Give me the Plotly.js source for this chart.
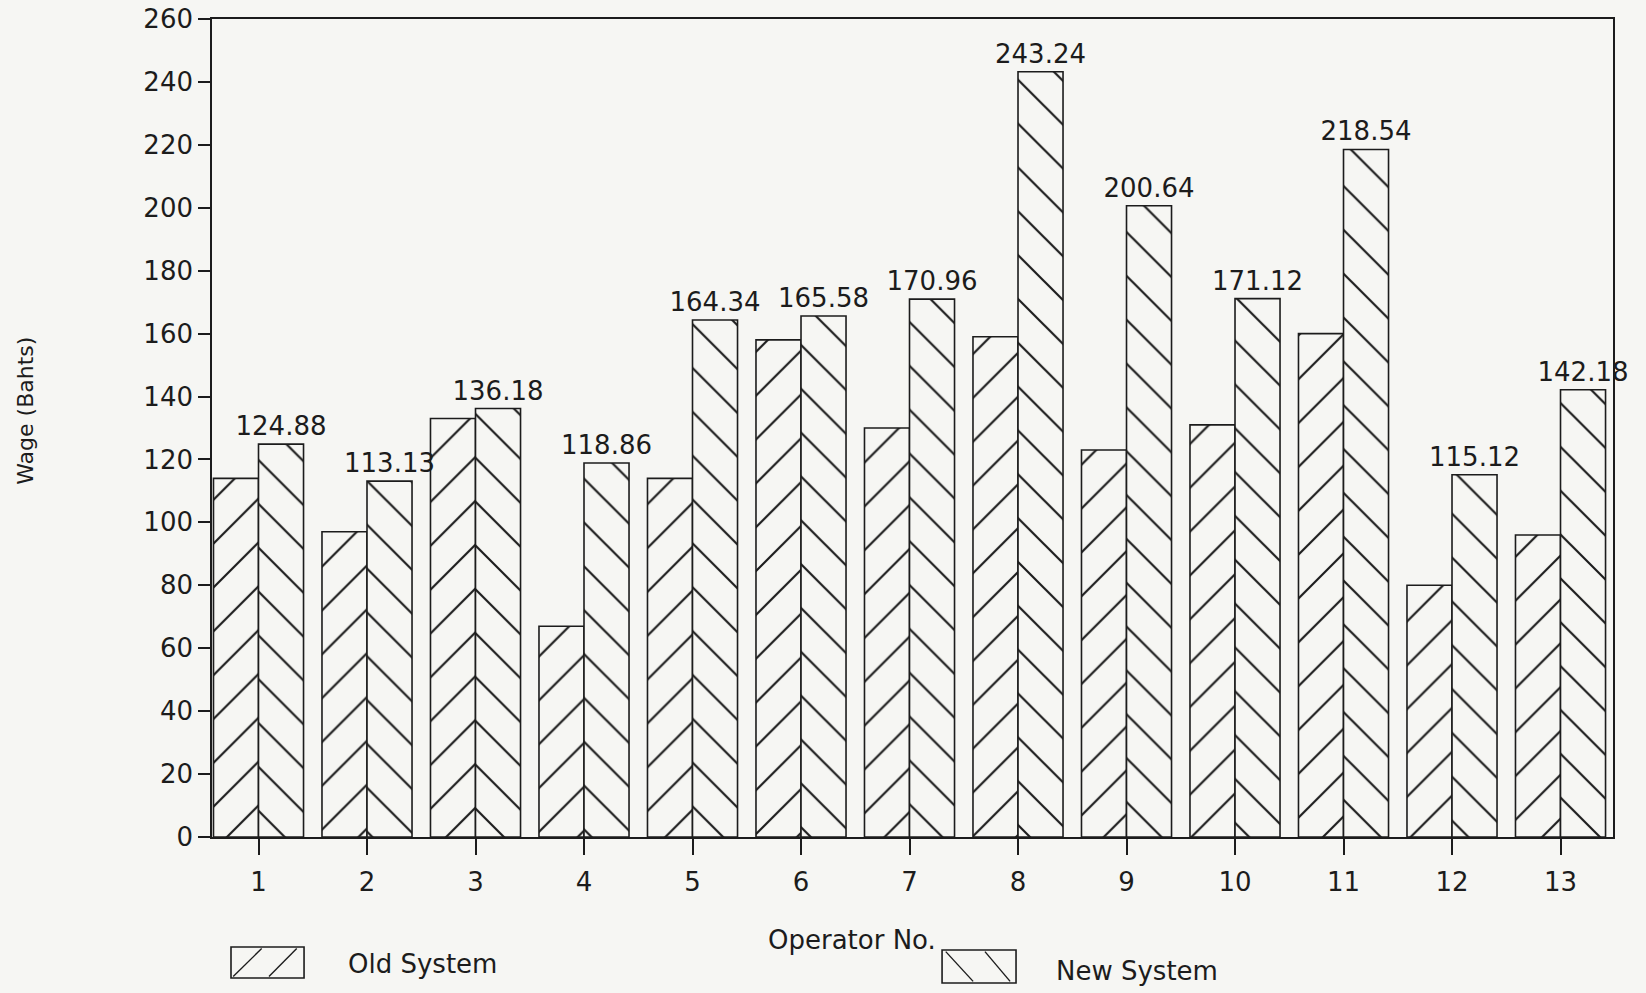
<!DOCTYPE html>
<html>
<head>
<meta charset="utf-8">
<script src="https://cdn.plot.ly/plotly-3.0.1.min.js"></script>
<style>html,body{margin:0;padding:0;background:#f6f6f3;}#chart{width:1646px;height:993px;}</style>
</head>
<body>
<div id="chart"></div>
<script>
// ---- data ----
const operators = [1, 2, 3, 4, 5, 6, 7, 8, 9, 10, 11, 12, 13];
const operatorLabels = ["1", "2", "3", "4", "5", "6", "7", "8", "9", "10", "11", "12", "13"];
const oldSystem = [114, 97, 133, 67, 114, 158, 130, 159, 123, 131, 160, 80, 96];
const newSystem = [124.88, 113.13, 136.18, 118.86, 164.34, 165.58, 170.96, 243.24, 200.64, 171.12, 218.54, 115.12, 142.18];
const yTicks = [0, 20, 40, 60, 80, 100, 120, 140, 160, 180, 200, 220, 240, 260];

const INK = '#1c1c1c';
const PAPER = '#f6f6f3';
const FONT = 'DejaVu Sans, sans-serif';

const traces = [
  {
    type: 'bar', name: 'Old System', x: operators, y: oldSystem,
    marker: {color: PAPER, line: {color: INK, width: 1.6},
      pattern: {shape: '/', size: 31, solidity: 0.07, fgcolor: INK, bgcolor: PAPER}},
    hoverinfo: 'x+y'
  },
  {
    type: 'bar', name: 'New System', x: operators, y: newSystem,
    text: newSystem.map(v => v.toFixed(2)), textposition: 'outside', cliponaxis: false,
    constraintext: 'none',
    textfont: {family: FONT, size: 26, color: INK},
    marker: {color: PAPER, line: {color: INK, width: 1.6},
      pattern: {shape: '\\', size: 31, solidity: 0.07, fgcolor: INK, bgcolor: PAPER}},
    hoverinfo: 'x+y'
  }
];

// legend drawn as boxes with hatching (paper coords)
function legendBox(x0, x1, y0, y1, dir) {
  const s = [{type: 'rect', xref: 'paper', yref: 'paper', x0: x0, x1: x1, y0: y0, y1: y1,
    line: {color: INK, width: 1.6}, fillcolor: 'rgba(0,0,0,0)'}];
  const w = x1 - x0, h = y1 - y0;
  const segs = dir === '/' ? [[0.03, 0.05, 0.42, 0.95], [0.52, 0.05, 0.9, 0.95]]
                           : [[0.05, 0.95, 0.42, 0.05], [0.58, 0.95, 0.92, 0.05]];
  segs.forEach(g => s.push({type: 'line', xref: 'paper', yref: 'paper',
    x0: x0 + g[0] * w, y0: y0 + g[1] * h, x1: x0 + g[2] * w, y1: y0 + g[3] * h,
    line: {color: INK, width: 1.4}}));
  return s;
}

const layout = {
  width: 1646, height: 993,
  paper_bgcolor: PAPER, plot_bgcolor: PAPER,
  margin: {l: 212, r: 33, t: 19, b: 156},
  showlegend: false,
  barmode: 'group', bargap: 0.17, bargroupgap: 0,
  font: {family: FONT, color: INK, size: 26},
  xaxis: {
    range: [0.5714, 13.4838], tickvals: operators, ticktext: operatorLabels,
    ticks: 'outside', ticklen: 16, tickwidth: 1.5, tickcolor: INK,
    showline: true, linecolor: INK, linewidth: 1.6, mirror: true,
    showgrid: false, zeroline: false,
    tickfont: {family: FONT, size: 26, color: INK}, ticklabelstandoff: 5
  },
  yaxis: {
    range: [0, 260], tickvals: yTicks,
    ticks: 'outside', ticklen: 12, tickwidth: 1.5, tickcolor: INK,
    showline: true, linecolor: INK, linewidth: 1.6, mirror: true,
    showgrid: false, zeroline: false,
    tickfont: {family: FONT, size: 26, color: INK}
  },
  annotations: [
    {xref: 'paper', yref: 'paper', x: -0.1328, y: 0.521, xanchor: 'center', yanchor: 'middle',
     text: 'Wage (Bahts)', textangle: -90,
     showarrow: false, font: {family: FONT, size: 22, color: INK}},
    {xref: 'paper', yref: 'paper', x: 0.4568, y: -0.1259, xanchor: 'center', yanchor: 'middle',
     text: 'Operator No.', showarrow: false, font: {family: FONT, size: 26, color: INK}},
    {xref: 'paper', yref: 'paper', x: 0.0956, y: -0.1553, xanchor: 'left', yanchor: 'middle',
     text: 'Old System', showarrow: false, font: {family: FONT, size: 26, color: INK}},
    {xref: 'paper', yref: 'paper', x: 0.601, y: -0.1638, xanchor: 'left', yanchor: 'middle',
     text: 'New System', showarrow: false, font: {family: FONT, size: 26, color: INK}}
  ],
  shapes: [].concat(
    legendBox(0.01356, 0.0657, -0.1724, -0.1345, '/'),
    legendBox(0.5211, 0.5739, -0.1785, -0.1381, '\\')
  )
};

Plotly.newPlot('chart', traces, layout, {displayModeBar: false, responsive: false});
</script>
</body>
</html>
